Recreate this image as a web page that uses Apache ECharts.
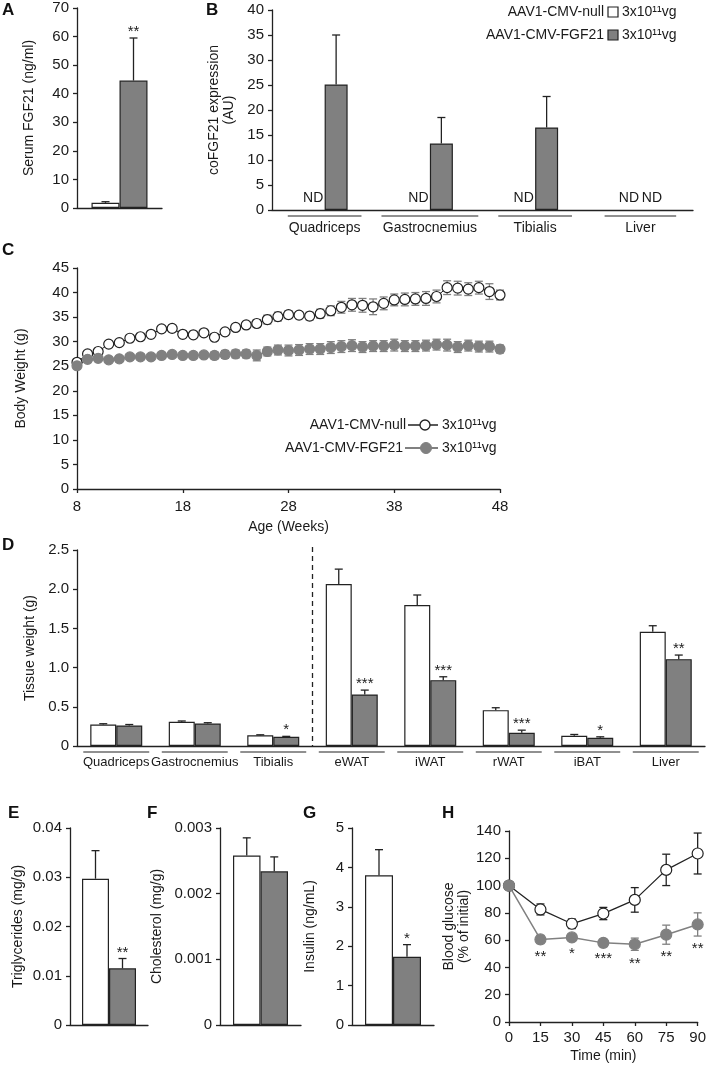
<!DOCTYPE html>
<html><head><meta charset="utf-8">
<script src="https://cdn.jsdelivr.net/npm/echarts@6/dist/echarts.min.js"></script>
<style>html,body{margin:0;padding:0;background:#fff}#c{width:709px;height:1067px}</style>
</head><body><div id="c"></div>
<script>
// ================= DATA =================
const groupNames = ['AAV1-CMV-null', 'AAV1-CMV-FGF21'];
const doseLabel = '3x10\u00B9\u00B9vg';

// A: serum FGF21 (ng/ml)
const serumMean = [1.8, 44.6];
const serumErr = [0.4, 14.9];
const serumStars = ['', '**'];

// B: coFGF21 expression (AU)
const exprCats = ['Quadriceps', 'Gastrocnemius', 'Tibialis', 'Liver'];
const exprNull = [null, null, null, null];
const exprNullErr = [null, null, null, null];
const exprFgf = [25.1, 13.3, 16.5, null];
const exprFgfErr = [9.9, 5.2, 6.2, null];
const exprNullNote = ['ND', 'ND', 'ND', 'ND'];
const exprFgfNote = ['', '', '', 'ND'];

// C: body weight (g) by age (weeks)
const weeks = ['8','9','10','11','12','13','14','15','16','17','18','19','20','21','22','23','24','25','26','27','28',
               '29','30','31','32','33','34','35','36','37','38','39','40','41','42','43','44','45','46','47','48'];
const bwNull = [25.8,27.5,28.0,29.5,29.8,30.7,31.0,31.5,32.6,32.7,31.5,31.4,31.8,30.9,32.0,32.9,33.4,33.7,34.5,35.1,35.5,
                35.4,35.2,35.7,36.3,37.0,37.5,37.4,37.1,37.8,38.5,38.6,38.7,38.8,39.2,41.0,40.9,40.7,41.0,40.2,39.5];
const bwNullErr = [0.5,0.5,0.4,0.5,0.4,0.5,0.5,0.6,0.6,0.7,0.6,0.5,0.6,0.6,0.6,0.6,0.7,0.8,0.9,0.9,0.8,
                   0.7,0.8,0.9,1.0,1.2,1.3,1.4,1.6,1.3,1.2,1.3,1.3,1.4,1.3,1.4,1.4,1.3,1.3,1.6,1.0];
const bwFgf = [25.1,26.4,26.6,26.3,26.5,26.9,26.9,26.9,27.2,27.4,27.2,27.2,27.3,27.2,27.4,27.5,27.5,27.2,28.0,28.3,28.2,
               28.3,28.5,28.5,28.8,29.0,29.2,28.9,29.1,29.1,29.3,29.1,29.1,29.2,29.4,29.3,28.9,29.2,29.0,29.0,28.5];
const bwFgfErr = [0.4,0.4,0.4,0.3,0.4,0.4,0.4,0.4,0.5,0.5,0.5,0.6,0.6,0.7,0.8,0.8,0.8,1.1,0.9,1.0,1.1,
                  1.1,1.1,1.1,1.2,1.2,1.2,1.1,1.1,1.1,1.2,1.1,1.1,1.1,1.1,1.2,1.1,1.1,1.1,1.1,0.8];

// D: tissue weight (g)
const tissueCats = ['Quadriceps','Gastrocnemius','Tibialis','eWAT','iWAT','rWAT','iBAT','Liver'];
const tissueNull = [0.274, 0.309, 0.138, 2.066, 1.798, 0.457, 0.130, 1.457];
const tissueNullErr = [0.010, 0.010, 0.005, 0.190, 0.128, 0.031, 0.017, 0.077];
const tissueFgf = [0.262, 0.287, 0.117, 0.657, 0.840, 0.168, 0.104, 1.108];
const tissueFgfErr = [0.012, 0.010, 0.006, 0.056, 0.043, 0.034, 0.013, 0.052];
const tissueStars = ['', '', '*', '***', '***', '***', '*', '**'];
const tissueTicks = ['0', '0.5', '1.0', '1.5', '2.0', '2.5'];

// E: triglycerides (mg/g)
const tgMean = [0.0297, 0.0115];
const tgErr = [0.0057, 0.0020];
const tgStars = ['', '**'];
const tgTicks = ['0', '0.01', '0.02', '0.03', '0.04'];

// F: cholesterol (mg/g)
const cholMean = [0.00258, 0.00234];
const cholErr = [0.00027, 0.00022];
const cholTicks = ['0', '0.001', '0.002', '0.003'];

// G: insulin (ng/mL)
const insMean = [3.80, 1.73];
const insErr = [0.65, 0.31];
const insStars = ['', '*'];

// H: blood glucose (% of initial)
const gttTimes = [0, 15, 30, 45, 60, 75, 90];
const gttNull = [100, 82.5, 72, 79.5, 89.5, 111.5, 123.5];
const gttNullErr = [0, 4, 3.5, 4.5, 9, 11.5, 15];
const gttFgf = [100, 60.5, 62, 58, 57, 64, 71.5];
const gttFgfErr = [0, 3, 2.5, 2, 4.5, 7, 8.5];
const gttStars = ['', '**', '*', '***', '**', '**', '**'];

// ================= STYLE =================
const FONT = 'Liberation Sans, Arial, Helvetica, sans-serif';
const INK = '#1a1a1a';
const AX = '#222';
const GREY = '#808080';
const WHITE = '#ffffff';

const chart = echarts.init(document.getElementById('c'), null, {renderer: 'canvas'});

const grids = [
  {left: 77,  top: 8,   width: 85,  height: 200}, // A
  {left: 272, top: 10,  width: 421, height: 200}, // B
  {left: 77,  top: 268, width: 423, height: 221}, // C
  {left: 77,  top: 550, width: 628, height: 196}, // D
  {left: 70,  top: 828, width: 78,  height: 197}, // E
  {left: 220, top: 828, width: 81,  height: 197}, // F
  {left: 352, top: 828, width: 82,  height: 197}, // G
  {left: 509, top: 831, width: 189, height: 191}  // H
];

function yAx(gi, max, interval, name, gap, fmt) {
  return {
    type: 'value', gridIndex: gi, min: 0, max: max, interval: interval,
    name: name, nameLocation: 'middle', nameGap: gap, nameRotate: 90,
    nameTextStyle: {fontFamily: FONT, fontSize: 14, color: INK, lineHeight: 15},
    axisLine: {show: true, lineStyle: {color: AX, width: 1.3}},
    axisTick: {show: true, inside: false, length: 4, lineStyle: {color: AX, width: 1.3}},
    axisLabel: {fontFamily: FONT, fontSize: 15, color: INK, margin: 8, formatter: fmt},
    splitLine: {show: false}
  };
}
function catAx(gi, data, showLabels, labelSize, margin) {
  return {
    type: 'category', gridIndex: gi, data: data,
    axisLine: {show: true, lineStyle: {color: AX, width: 1.3}},
    axisTick: {show: false},
    axisLabel: {show: showLabels, interval: 0, fontFamily: FONT, fontSize: labelSize || 14, color: INK, margin: margin || 10, hideOverlap: false},
    splitLine: {show: false}
  };
}
function tickFmt(ticks, step) { return v => ticks[Math.round(v / step)]; }

const xAxes = [
  catAx(0, [''], false),
  catAx(1, exprCats, true, 14, 11),
  {
    type: 'category', gridIndex: 2, data: weeks, boundaryGap: false,
    name: 'Age (Weeks)', nameLocation: 'middle', nameGap: 31,
    nameTextStyle: {fontFamily: FONT, fontSize: 14, color: INK},
    axisLine: {show: true, lineStyle: {color: AX, width: 1.3}},
    axisTick: {show: true, interval: 9, length: 4, lineStyle: {color: AX, width: 1.3}},
    axisLabel: {interval: 9, fontFamily: FONT, fontSize: 15, color: INK, margin: 10},
    splitLine: {show: false}
  },
  catAx(3, tissueCats, true, 13, 10),
  catAx(4, [''], false),
  catAx(5, [''], false),
  catAx(6, [''], false),
  {
    type: 'value', gridIndex: 7, min: 0, max: 90, interval: 15,
    name: 'Time (min)', nameLocation: 'middle', nameGap: 27,
    nameTextStyle: {fontFamily: FONT, fontSize: 14, color: INK},
    axisLine: {show: true, lineStyle: {color: AX, width: 1.3}},
    axisTick: {show: true, length: 4, lineStyle: {color: AX, width: 1.3}},
    axisLabel: {fontFamily: FONT, fontSize: 15, color: INK, margin: 8},
    splitLine: {show: false}
  }
];

const yAxes = [
  yAx(0, 70, 10, 'Serum FGF21 (ng/ml)', 40),
  yAx(1, 40, 5, 'coFGF21 expression\n(AU)', 30),
  yAx(2, 45, 5, 'Body Weight (g)', 48),
  yAx(3, 2.5, 0.5, 'Tissue weight (g)', 38, tickFmt(tissueTicks, 0.5)),
  yAx(4, 0.04, 0.01, 'Triglycerides (mg/g)', 44, tickFmt(tgTicks, 0.01)),
  yAx(5, 0.003, 0.001, 'Cholesterol (mg/g)', 55, tickFmt(cholTicks, 0.001)),
  yAx(6, 5, 1, 'Insulin (ng/mL)', 34),
  yAx(7, 140, 20, 'Blood glucose\n(% of initial)', 36)
];

function bars(gi, values, fill, width) {
  return {
    type: 'bar', xAxisIndex: gi, yAxisIndex: gi, data: values, barWidth: width, barGap: '0%',
    itemStyle: {color: fill, borderColor: AX, borderWidth: 1.2}, z: 2, silent: true
  };
}
// upward error bars (+ optional stars and notes) on bar charts
function barErr(gi, means, errs, offset, stars, notes) {
  return {
    type: 'custom', xAxisIndex: gi, yAxisIndex: gi, z: 5, silent: true, clip: false,
    data: means.map((m, i) => [i, m == null ? 0 : m]),
    renderItem: function (params, api) {
      const i = params.dataIndex;
      const m = means[i];
      const ch = [];
      const base = api.coord([i, m == null ? 0 : m]);
      const x = base[0] + offset;
      if (m != null) {
        const e = errs[i] || 0;
        const top = api.coord([i, m + e]);
        if (e > 0) {
          ch.push({type: 'line', shape: {x1: x, y1: base[1], x2: x, y2: top[1]}, style: {stroke: AX, lineWidth: 1.3}});
          ch.push({type: 'line', shape: {x1: x - 4, y1: top[1], x2: x + 4, y2: top[1]}, style: {stroke: AX, lineWidth: 1.3}});
        }
        if (stars && stars[i]) {
          ch.push({type: 'text', style: {text: stars[i], x: x, y: top[1] - 6, align: 'center', verticalAlign: 'middle',
            fontFamily: FONT, fontSize: 15, fill: INK}});
        }
      }
      if (notes && notes[i]) {
        ch.push({type: 'text', style: {text: notes[i], x: x, y: base[1] - 12, align: 'center', verticalAlign: 'middle',
          fontFamily: FONT, fontSize: 14, fill: INK}});
      }
      return {type: 'group', children: ch};
    }
  };
}
// group underlines below a category axis
function underlines(gi, n, halfFrac, dy) {
  const d = [];
  for (let i = 0; i < n; i++) d.push([i, 0]);
  return {
    type: 'custom', xAxisIndex: gi, yAxisIndex: gi, z: 5, silent: true, clip: false, data: d,
    renderItem: function (params, api) {
      const i = params.dataIndex;
      const p = api.coord([i, 0]);
      const w = api.size([1, 0])[0] * halfFrac[i];
      return {type: 'line', shape: {x1: p[0] - w, y1: p[1] + dy, x2: p[0] + w, y2: p[1] + dy}, style: {stroke: AX, lineWidth: 1.2}};
    }
  };
}
// symmetric error bars for line charts
function lineErr(gi, means, errs, color, stars) {
  return {
    type: 'custom', xAxisIndex: gi, yAxisIndex: gi, z: 3, silent: true, clip: false,
    data: means.map((m, i) => [i, m]),
    renderItem: function (params, api) {
      const i = params.dataIndex;
      const xv = api.value(0);
      const m = means[i], e = errs[i];
      const pc = api.coord([xv, m]);
      const pt = api.coord([xv, m + e]);
      const pb = api.coord([xv, m - e]);
      const x = pc[0];
      const ch = [];
      if (e > 0) {
        ch.push({type: 'line', shape: {x1: x, y1: pt[1], x2: x, y2: pb[1]}, style: {stroke: color, lineWidth: 1.3}});
        ch.push({type: 'line', shape: {x1: x - 4, y1: pt[1], x2: x + 4, y2: pt[1]}, style: {stroke: color, lineWidth: 1.3}});
        ch.push({type: 'line', shape: {x1: x - 4, y1: pb[1], x2: x + 4, y2: pb[1]}, style: {stroke: color, lineWidth: 1.3}});
      }
      if (stars && stars[i]) {
        ch.push({type: 'text', style: {text: stars[i], x: x, y: pb[1] + 13, align: 'center', verticalAlign: 'middle',
          fontFamily: FONT, fontSize: 15, fill: INK}});
      }
      return {type: 'group', children: ch};
    }
  };
}
function lineSeries(gi, data, lineColor, lineW, fill, border, size) {
  return {
    type: 'line', xAxisIndex: gi, yAxisIndex: gi, data: data, z: 6, silent: true,
    symbol: 'circle', symbolSize: size, showSymbol: true, showAllSymbol: true,
    lineStyle: {color: lineColor, width: lineW},
    itemStyle: {color: fill, borderColor: border, borderWidth: 1.2}
  };
}

const series = [
  // A
  bars(0, [serumMean[0]], WHITE, 28), bars(0, [serumMean[1]], GREY, 28),
  barErr(0, [serumMean[0]], [serumErr[0]], -14, [serumStars[0]]),
  barErr(0, [serumMean[1]], [serumErr[1]], 14, [serumStars[1]]),
  // B
  bars(1, exprNull, WHITE, 23), bars(1, exprFgf, GREY, 23),
  barErr(1, exprNull, exprNullErr, -11.5, null, exprNullNote),
  barErr(1, exprFgf, exprFgfErr, 11.5, null, exprFgfNote),
  underlines(1, exprCats.length, [0.35, 0.46, 0.35, 0.34], 6),
  // C
  lineErr(2, bwNull, bwNullErr, GREY),
  lineErr(2, bwFgf, bwFgfErr, GREY),
  lineSeries(2, bwNull, AX, 1, WHITE, AX, 10),
  lineSeries(2, bwFgf, GREY, 1.5, GREY, GREY, 10),
  // D
  bars(3, tissueNull, WHITE, 26), bars(3, tissueFgf, GREY, 26),
  barErr(3, tissueNull, tissueNullErr, -13),
  barErr(3, tissueFgf, tissueFgfErr, 13, tissueStars),
  underlines(3, tissueCats.length, [0.42, 0.42, 0.42, 0.42, 0.42, 0.42, 0.42, 0.42], 6),
  {
    type: 'custom', xAxisIndex: 3, yAxisIndex: 3, z: 5, silent: true, clip: false, data: [[2, 0]],
    renderItem: function (params, api) {
      const p0 = api.coord([2, 0]);
      const p1 = api.coord([2, 2.5]);
      const x = p0[0] + api.size([1, 0])[0] / 2;
      return {type: 'line', shape: {x1: x, y1: p1[1] - 3, x2: x, y2: p0[1]}, style: {stroke: AX, lineWidth: 1.3, lineDash: [5, 4]}};
    }
  },
  // E
  bars(4, [tgMean[0]], WHITE, 27), bars(4, [tgMean[1]], GREY, 27),
  barErr(4, [tgMean[0]], [tgErr[0]], -13.5, [tgStars[0]]),
  barErr(4, [tgMean[1]], [tgErr[1]], 13.5, [tgStars[1]]),
  // F
  bars(5, [cholMean[0]], WHITE, 27.5), bars(5, [cholMean[1]], GREY, 27.5),
  barErr(5, [cholMean[0]], [cholErr[0]], -13.75),
  barErr(5, [cholMean[1]], [cholErr[1]], 13.75),
  // G
  bars(6, [insMean[0]], WHITE, 28), bars(6, [insMean[1]], GREY, 28),
  barErr(6, [insMean[0]], [insErr[0]], -14, [insStars[0]]),
  barErr(6, [insMean[1]], [insErr[1]], 14, [insStars[1]]),
  // H
  Object.assign(lineErr(7, gttNull, gttNullErr, AX), {data: gttTimes.map((t, i) => [t, gttNull[i]])}),
  Object.assign(lineErr(7, gttFgf, gttFgfErr, GREY, gttStars), {data: gttTimes.map((t, i) => [t, gttFgf[i]])}),
  lineSeries(7, gttTimes.map((t, i) => [t, gttNull[i]]), AX, 1.3, WHITE, AX, 11),
  lineSeries(7, gttTimes.map((t, i) => [t, gttFgf[i]]), GREY, 1.5, GREY, GREY, 11)
];

function letter(t, x, y) {
  return {type: 'text', x: x, y: y, silent: true, style: {text: t, fontFamily: FONT, fontWeight: 'bold', fontSize: 17, fill: '#111', verticalAlign: 'middle'}};
}
function txt(t, x, y, align) {
  return {type: 'text', x: x, y: y, silent: true, style: {text: t, fontFamily: FONT, fontSize: 14, fill: INK, align: align, verticalAlign: 'middle'}};
}

const graphic = [
  letter('A', 2, 10), letter('B', 206, 10), letter('C', 2, 250), letter('D', 2, 545),
  letter('E', 8, 813), letter('F', 147, 813), letter('G', 303, 813), letter('H', 442, 813),
  // legend B
  txt(groupNames[0], 604, 12, 'right'),
  {type: 'rect', silent: true, shape: {x: 608, y: 7, width: 10, height: 10}, style: {fill: WHITE, stroke: AX, lineWidth: 1.2}},
  txt(doseLabel, 622, 12, 'left'),
  txt(groupNames[1], 604, 35, 'right'),
  {type: 'rect', silent: true, shape: {x: 608, y: 30, width: 10, height: 10}, style: {fill: GREY, stroke: AX, lineWidth: 1.2}},
  txt(doseLabel, 622, 35, 'left'),
  // legend C
  txt(groupNames[0], 406, 425, 'right'),
  {type: 'line', silent: true, shape: {x1: 408, y1: 425, x2: 438, y2: 425}, style: {stroke: AX, lineWidth: 1.5}},
  {type: 'circle', silent: true, shape: {cx: 425, cy: 425, r: 5}, style: {fill: WHITE, stroke: AX, lineWidth: 1.3}},
  txt(doseLabel, 442, 425, 'left'),
  txt(groupNames[1], 403, 448, 'right'),
  {type: 'line', silent: true, shape: {x1: 405, y1: 448, x2: 438, y2: 448}, style: {stroke: GREY, lineWidth: 2}},
  {type: 'circle', silent: true, shape: {cx: 426, cy: 448, r: 5.5}, style: {fill: GREY, stroke: GREY, lineWidth: 1}},
  txt(doseLabel, 442, 448, 'left')
];

chart.setOption({
  animation: false,
  backgroundColor: '#fff',
  textStyle: {fontFamily: FONT},
  grid: grids,
  xAxis: xAxes,
  yAxis: yAxes,
  series: series,
  graphic: graphic
});
</script>
</body></html>
